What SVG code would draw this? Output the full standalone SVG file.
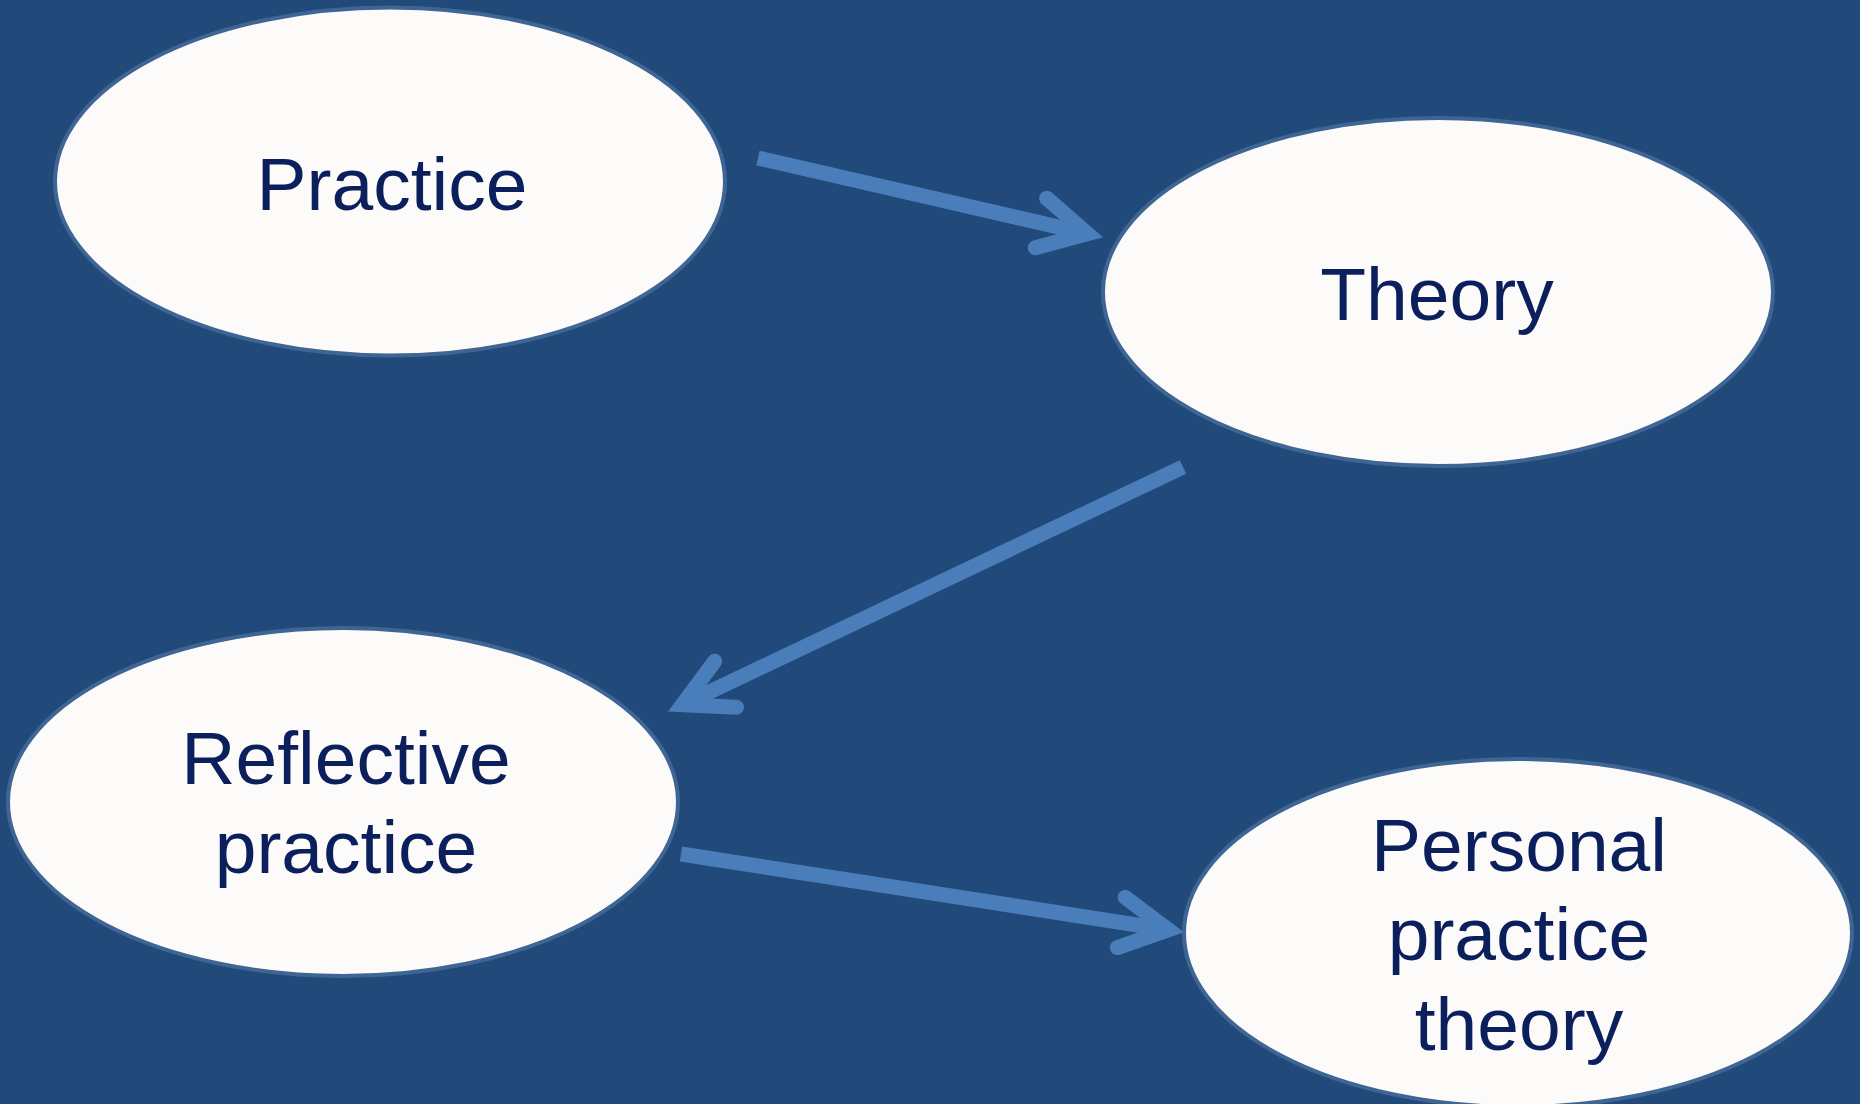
<svg xmlns="http://www.w3.org/2000/svg" width="1860" height="1104" viewBox="0 0 1860 1104">
<style>
.node{fill:#fcfbf9;stroke:#3e6594;stroke-width:4}
.lbl{font-family:"Liberation Sans",Arial,sans-serif;font-size:75px;fill:#0a1f5c;text-anchor:middle}
.conn{fill:none;stroke:#4a7ebb;stroke-width:15;stroke-linecap:butt}
</style>
<defs>
<marker id="chev" markerUnits="userSpaceOnUse" orient="auto" refX="0" refY="0" markerWidth="10" markerHeight="10" overflow="visible">
<path d="M -47.7,-25.4 L 0,0 L -47.7,25.4" fill="none" stroke="#4a7ebb" stroke-width="15" stroke-linecap="round" stroke-linejoin="miter" stroke-miterlimit="10"/>
</marker>
</defs>
<rect x="0" y="0" width="1860" height="1104" fill="#214a7b"/>
<g id="connectors">
<line class="conn" x1="758" y1="158" x2="1087.5" y2="233.7" marker-end="url(#chev)"/>
<line class="conn" x1="1183" y1="467" x2="682.5" y2="704.7" marker-end="url(#chev)"/>
<line class="conn" x1="681" y1="854" x2="1168.3" y2="929.8" marker-end="url(#chev)"/>
</g>
<g id="practice">
<ellipse class="node" cx="390" cy="181.5" rx="335" ry="174"/>
<text class="lbl" x="392" y="210">Practice</text>
</g>
<g id="theory">
<ellipse class="node" cx="1438" cy="292" rx="335" ry="174"/>
<text class="lbl" x="1437" y="320">Theory</text>
</g>
<g id="reflective-practice">
<ellipse class="node" cx="343" cy="802" rx="335" ry="174"/>
<text class="lbl" x="346" y="784">Reflective</text>
<text class="lbl" x="346" y="873">practice</text>
</g>
<g id="personal-practice-theory">
<ellipse class="node" cx="1518" cy="933" rx="334" ry="174"/>
<text class="lbl" x="1519" y="871">Personal</text>
<text class="lbl" x="1519" y="960">practice</text>
<text class="lbl" x="1519" y="1050">theory</text>
</g>
</svg>
